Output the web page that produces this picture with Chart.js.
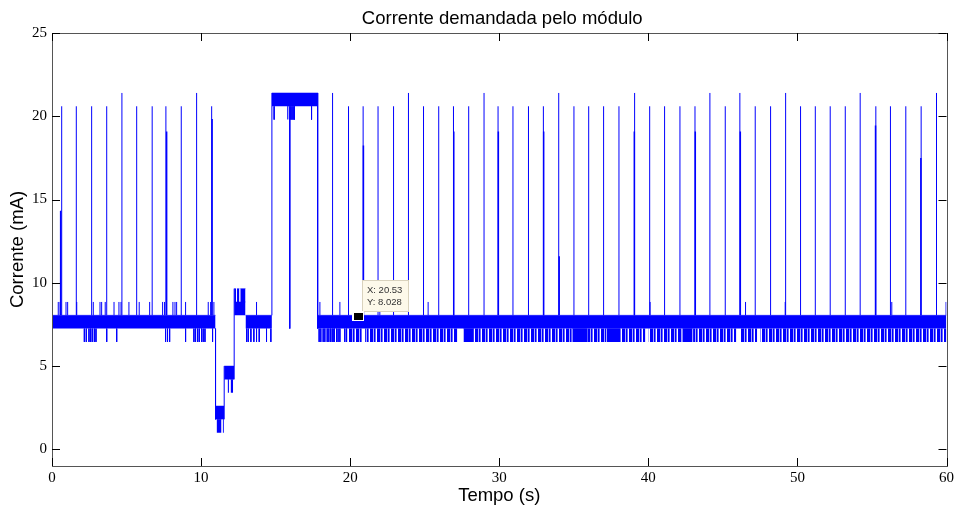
<!DOCTYPE html>
<html lang="pt">
<head>
<meta charset="UTF-8">
<title>Corrente demandada pelo módulo</title>
<script src="https://cdn.jsdelivr.net/npm/chart.js@4.4.1/dist/chart.umd.min.js"></script>
<style>
    body { margin: 0; background: #fff; }
    #chart { display: block; }
</style>
</head>
<body>
<canvas id="chart" width="957" height="510"></canvas>
<script>
    // axis ticks
    const xTicks = [0, 10, 20, 30, 40, 50, 60];
    const yTicks = [0, 5, 10, 15, 20, 25];

    // solid parts of the trace (time in s, current in mA)
    const bandStart = [0, 10.97, 11.04, 11.45, 11.55, 11.78, 11.98, 12.22, 12.22, 12.41, 12.63, 12.98, 14.75, 15.77, 17.82, 27.6, 34.9, 37.2, 42.3];
    const bandEnd   = [10.97, 11.55, 11.37, 11.53, 12.22, 11.87, 12.15, 12.98, 12.35, 12.57, 12.98, 14.75, 17.82, 15.87, 60, 28.3, 35.9, 38.1, 42.97];
    const bandLow   = [7.25, 1.8, 1.0, 1.0, 4.2, 3.4, 3.4, 8.05, 8.85, 8.85, 8.85, 7.25, 20.6, 19.8, 7.25, 6.45, 6.45, 6.45, 6.45];
    const bandHigh  = [8.05, 2.6, 1.8, 1.8, 5.0, 4.2, 4.2, 8.85, 9.65, 9.65, 9.65, 8.05, 21.4, 20.6, 8.05, 7.25, 7.25, 7.25, 7.25];

    // stretches where the trace keeps dropping to 6.45 mA (dense short dips)
    const denseStart = [19.85, 21.0, 28.3, 35.9, 38.1, 40.0, 43.0, 46.2, 47.5];
    const denseEnd   = [20.85, 27.2, 34.9, 37.2, 39.8, 42.3, 45.9, 47.3, 60];
    const denseLow = 6.45;
    const denseHigh = 7.25;

    // periodic peaks from the 8.05 mA level
    const spikeTimes = [0.65, 1.63, 2.66, 3.67, 4.69, 5.68, 6.72, 7.64, 8.67, 9.70, 10.71,
        18.82, 19.89, 20.87, 21.87, 22.91, 23.91, 24.92, 25.94, 26.93, 27.95, 28.98, 29.92, 30.92,
        31.96, 32.96, 33.99, 35.01, 36.0, 37.0, 38.03, 39.08, 40.09, 41.09, 42.12, 43.13, 44.13,
        45.16, 46.14, 47.17, 48.20, 49.21, 50.21, 51.20, 52.20, 53.21, 54.21, 55.26, 56.24, 57.27,
        58.30, 59.33];
    const spikeTops = [20.6, 20.6, 20.6, 20.6, 21.4, 20.6, 20.6, 20.6, 20.6, 21.4, 20.6,
        21.4, 20.6, 20.6, 20.6, 20.6, 21.4, 20.6, 20.6, 20.6, 20.6, 21.4, 20.6, 20.6,
        20.6, 20.6, 21.4, 20.6, 20.6, 20.6, 20.6, 21.4, 20.6, 20.6, 20.6, 20.6, 21.4,
        20.6, 21.4, 20.6, 20.6, 21.4, 20.6, 20.6, 20.6, 20.6, 21.4, 20.6, 20.6, 20.6,
        20.6, 21.4];

    // shorter peaks sitting next to some of the spikes
    const partialTimes = [0.58, 7.69, 10.74, 20.89, 26.95, 29.94, 32.98, 34.02, 39.06, 43.15, 46.17, 55.24, 58.28];
    const partialTops  = [14.33, 19.08, 19.84, 18.24, 19.08, 19.08, 19.08, 11.59, 19.08, 19.08, 19.08, 19.45, 17.49];

    // single steps 8.05 -> 8.85 mA
    const upTimes = [0.42, 0.54, 0.94, 1.05, 1.66, 2.77, 3.22, 3.33, 3.57, 4.16, 4.49, 4.63, 5.16, 5.85,
        6.55, 7.42, 7.55, 8.11, 8.25, 8.36, 8.96, 10.48, 10.64, 10.86, 13.72, 17.97, 19.31, 21.99,
        25.23, 40.12, 46.52, 49.18, 56.33, 59.97];

    // single dips 7.25 -> 6.45 mA
    const dipTimes = [0.02, 2.17, 2.30, 2.48, 2.59, 2.70, 2.84, 2.95, 3.67, 4.34, 7.62, 7.75, 7.89, 8.96,
        9.52, 9.63, 9.77, 9.88, 10.03, 10.14, 10.26, 10.77, 13.05, 13.16, 13.34, 13.54, 13.72, 13.90,
        14.39, 14.68, 17.92, 18.03, 18.19, 18.30, 18.46, 18.57, 18.68, 18.79, 18.86, 18.95, 19.09,
        19.19, 19.31, 19.64, 19.76];

    // dips 20.6 -> 19.8 mA during the high plateau
    const topDipTimes = [14.9, 16.02, 16.1, 16.18, 16.26, 17.41];

    // level changes between blocks
    const stepTimes = [0.02, 10.97, 11.55, 12.22, 14.75, 15.95, 17.82];
    const stepFrom  = [6.45, 7.25, 1.8, 4.2, 8.05, 20.6, 21.4];
    const stepTo    = [8.05, 1.8, 5.0, 9.65, 21.4, 7.25, 7.25];

    // data cursor
    const tipX = 20.53;
    const tipY = 8.028;

    const BLUE = '#0000ff';

    // irregular vertical stripes for the dense dip stretches
    function stripePattern() {
        const c = document.createElement('canvas');
        c.width = 7;
        c.height = 1;
        const g = c.getContext('2d');
        [1, 1, 0.35, 1, 0.6, 0, 1].forEach((a, i) => {
            g.fillStyle = 'rgba(0,0,255,' + a + ')';
            g.fillRect(i, 0, 1, 1);
        });
        return g.createPattern(c, 'repeat');
    }

    function strokes(times, from, to) {
        const pts = [];
        times.forEach((t, i) => {
            const a = Array.isArray(from) ? from[i] : from;
            const b = Array.isArray(to) ? to[i] : to;
            pts.push({ x: t, y: a }, { x: t, y: b }, { x: t, y: null });
        });
        return pts;
    }

    function lineSet(data, width) {
        return {
            data: data,
            borderColor: BLUE,
            borderWidth: width,
            pointRadius: 0,
            fill: false,
            spanGaps: false
        };
    }

    const datasets = [];
    const stripes = stripePattern();

    bandStart.forEach((s, i) => {
        datasets.push({
            data: [{ x: s, y: bandHigh[i] }, { x: bandEnd[i], y: bandHigh[i] }],
            borderColor: BLUE,
            borderWidth: 0.5,
            backgroundColor: BLUE,
            pointRadius: 0,
            fill: { value: bandLow[i] }
        });
    });

    denseStart.forEach((s, i) => {
        datasets.push({
            data: [{ x: s, y: denseHigh }, { x: denseEnd[i], y: denseHigh }],
            borderColor: 'rgba(0,0,255,0)',
            borderWidth: 0,
            backgroundColor: stripes,
            pointRadius: 0,
            fill: { value: denseLow }
        });
    });

    datasets.push(lineSet(strokes(spikeTimes, 8.05, spikeTops), 1));
    datasets.push(lineSet(strokes(partialTimes, 8.05, partialTops), 1.5));
    datasets.push(lineSet(strokes(upTimes, 8.05, 8.85), 1));
    datasets.push(lineSet(strokes(dipTimes, 7.25, 6.45), 1));
    datasets.push(lineSet(strokes(topDipTimes, 20.6, 19.8), 1));
    datasets.push(lineSet(strokes(stepTimes, stepFrom, stepTo), 1));

    // MATLAB style box, inner ticks, title and the data tip
    const matlabFrame = {
        id: 'matlabFrame',
        afterDatasetsDraw(chart) {
            const { ctx, chartArea: a, scales } = chart;
            ctx.save();
            ctx.strokeStyle = '#555';
            ctx.lineWidth = 1;
            ctx.strokeRect(Math.round(a.left) + 0.5, Math.round(a.top) + 0.5,
                Math.round(a.right - a.left), Math.round(a.bottom - a.top));

            ctx.strokeStyle = '#000';
            ctx.beginPath();
            xTicks.forEach(v => {
                const px = Math.round(scales.x.getPixelForValue(v)) + 0.5;
                ctx.moveTo(px, a.bottom); ctx.lineTo(px, a.bottom - 8);
                ctx.moveTo(px, a.top); ctx.lineTo(px, a.top + 8);
            });
            yTicks.forEach(v => {
                const py = Math.round(scales.y.getPixelForValue(v)) + 0.5;
                ctx.moveTo(a.left, py); ctx.lineTo(a.left + 8, py);
                ctx.moveTo(a.right, py); ctx.lineTo(a.right - 8, py);
            });
            ctx.stroke();

            // data tip
            const px = Math.round(scales.x.getPixelForValue(tipX));
            const py = Math.round(scales.y.getPixelForValue(tipY));
            ctx.fillStyle = '#fdf9ea';
            ctx.strokeStyle = '#d9d2bd';
            ctx.fillRect(px + 4, py - 36, 47, 32);
            ctx.strokeRect(px + 4.5, py - 35.5, 46, 31);
            ctx.fillStyle = '#fff';
            ctx.fillRect(px - 6, py - 5, 12, 10);
            ctx.fillStyle = '#000';
            ctx.fillRect(px - 4, py - 3, 9, 7);
            ctx.fillStyle = '#333';
            ctx.font = '9.5px "Liberation Sans", Arial, sans-serif';
            ctx.textBaseline = 'middle';
            ctx.textAlign = 'left';
            ctx.fillText('X: 20.53', px + 9, py - 26);
            ctx.fillText('Y: 8.028', px + 9, py - 14);

            // title
            ctx.fillStyle = '#000';
            ctx.font = '18.5px "Liberation Sans", Arial, sans-serif';
            ctx.textAlign = 'center';
            ctx.fillText('Corrente demandada pelo módulo', (a.left + a.right) / 2 + 3, 19);
            ctx.restore();
        }
    };

    const tickFont = { family: '"Liberation Serif", "Times New Roman", serif', size: 15 };
    const titleFont = { family: '"Liberation Sans", Arial, sans-serif', size: 18.5 };

    new Chart(document.getElementById('chart'), {
        type: 'line',
        data: { datasets: datasets },
        options: {
            responsive: false,
            animation: false,
            devicePixelRatio: 1,
            layout: { padding: { top: 33, right: 10, left: 0, bottom: 0 } },
            plugins: {
                legend: { display: false },
                tooltip: { enabled: false },
                title: { display: false }
            },
            scales: {
                x: {
                    type: 'linear',
                    min: 0,
                    max: 60,
                    afterBuildTicks: s => { s.ticks = xTicks.map(v => ({ value: v })); },
                    afterFit: s => { s.height = 44; },
                    grid: { display: false, drawTicks: false },
                    border: { display: false },
                    ticks: { font: tickFont, color: '#000', padding: 3, maxRotation: 0 },
                    title: { display: true, text: 'Tempo (s)', font: titleFont, color: '#000', padding: { top: 0, bottom: 3 } }
                },
                y: {
                    type: 'linear',
                    min: -1,
                    max: 25,
                    afterBuildTicks: s => { s.ticks = yTicks.map(v => ({ value: v })); },
                    afterFit: s => { s.width = 52; },
                    grid: { display: false, drawTicks: false },
                    border: { display: false },
                    ticks: { font: tickFont, color: '#000', padding: 5 },
                    title: { display: true, text: 'Corrente (mA)', font: titleFont, color: '#000', padding: { top: 7, bottom: 0 } }
                }
            }
        },
        plugins: [matlabFrame]
    });
</script>
</body>
</html>
